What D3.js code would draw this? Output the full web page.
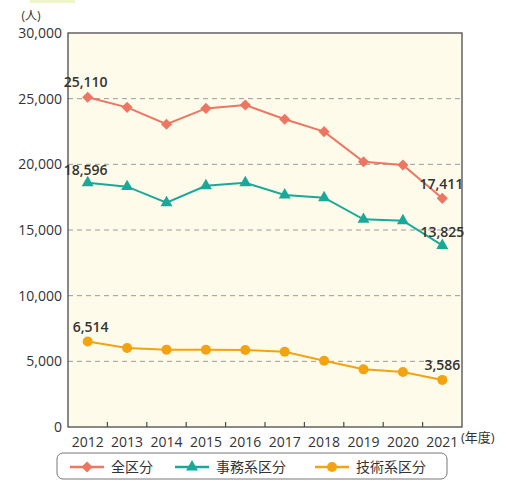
<!DOCTYPE html>
<html><head><meta charset="utf-8">
<script src="https://cdn.jsdelivr.net/npm/d3@7"></script>
<style>
html,body{margin:0;padding:0;background:#fff;}
text{font-family:"Open Sans","Noto Sans CJK JP",sans-serif;}
</style></head>
<body><svg id="c" width="506" height="481"></svg>
<script>
const years = ["2012","2013","2014","2015","2016","2017","2018","2019","2020","2021"];
const totalValues = [25110, 24340, 23050, 24260, 24520, 23430, 22490, 20200, 19950, 17411];
const clericalValues = [18596, 18300, 17080, 18370, 18600, 17670, 17460, 15810, 15710, 13825];
const technicalValues = [6514, 6015, 5890, 5880, 5860, 5730, 5050, 4390, 4190, 3586];
const yTicks = [0, 5000, 10000, 15000, 20000, 25000, 30000];
const seriesNames = ["全区分", "事務系区分", "技術系区分"];

const series = [
  {name: seriesNames[0], values: totalValues, color: "#ec7662", marker: "diamond"},
  {name: seriesNames[1], values: clericalValues, color: "#19a99a", marker: "triangle"},
  {name: seriesNames[2], values: technicalValues, color: "#f2a30f", marker: "circle"}
];

const svg = d3.select("#c");
const L = 68, R = 462, T = 33, B = 427;
const x = d3.scaleBand().domain(years).range([L, R]);
const y = d3.scaleLinear().domain([0, 30000]).range([B, T]);

// faint top decoration
svg.append("rect").attr("x", 30).attr("y", 0).attr("width", 45).attr("height", 3).attr("fill", "#eef5c8");

// plot background
svg.append("rect").attr("x", L).attr("y", T).attr("width", R - L).attr("height", B - T).attr("fill", "#fffbea");

// gridlines
svg.append("g").selectAll("line").data(yTicks.filter(d => d > 0 && d < 30000)).join("line")
  .attr("x1", L).attr("x2", R).attr("y1", d => y(d)).attr("y2", d => y(d))
  .attr("stroke", "#9a9a9a").attr("stroke-width", 1).attr("stroke-dasharray", "5,4");

// frame
svg.append("rect").attr("x", L).attr("y", T).attr("width", R - L).attr("height", B - T)
  .attr("fill", "none").attr("stroke", "#4a4a4a").attr("stroke-width", 1.3);

// y axis labels
const yAxis = d3.axisLeft(y).tickValues(yTicks).tickSize(0).tickPadding(6).tickFormat(d3.format(","));
const gy = svg.append("g").attr("transform", `translate(${L},0)`).call(yAxis);
gy.select(".domain").remove();
gy.selectAll("text").attr("font-size", 14).attr("fill", "#333");

// x axis: labels centered on bands, ticks at band boundaries pointing inward
const xAxis = d3.axisBottom(x).tickSize(0).tickPadding(10);
const gx = svg.append("g").attr("transform", `translate(0,${B})`).call(xAxis);
gx.select(".domain").remove();
gx.selectAll("text").attr("font-size", 14).attr("fill", "#333");
svg.append("g").selectAll("line").data(years.slice(1)).join("line")
  .attr("x1", d => x(d)).attr("x2", d => x(d)).attr("y1", B).attr("y2", B - 5)
  .attr("stroke", "#4a4a4a").attr("stroke-width", 1.2);

svg.append("text").attr("x", 461).attr("y", 442).attr("font-size", 13).attr("fill", "#333").text("(年度)");
svg.append("text").attr("x", 31).attr("y", 20).attr("text-anchor", "middle").attr("font-size", 12).attr("fill", "#333").text("(人)");

function drawMarker(g, type, color, cx, cy) {
  if (type === "diamond") {
    g.append("path").attr("d", d3.symbol(d3.symbolSquare, 62)()).attr("transform", `translate(${cx},${cy}) rotate(45)`).attr("fill", color);
  } else if (type === "triangle") {
    g.append("path").attr("d", d3.symbol(d3.symbolTriangle, 62)()).attr("transform", `translate(${cx},${cy})`).attr("fill", color);
  } else {
    g.append("circle").attr("cx", cx).attr("cy", cy).attr("r", 5).attr("fill", color);
  }
}

const line = d3.line().x((d, i) => x(years[i]) + x.bandwidth() / 2).y(d => y(d));
series.forEach(s => {
  const g = svg.append("g");
  g.append("path").attr("d", line(s.values)).attr("fill", "none").attr("stroke", s.color).attr("stroke-width", 2);
  s.values.forEach((v, i) => drawMarker(g, s.marker, s.color, x(years[i]) + x.bandwidth() / 2, y(v)));
});

// value labels
const fmt = d3.format(",");
const lbl = [
  {s: 0, i: 0, dx: -2, dy: -10},
  {s: 1, i: 0, dx: -2, dy: -8},
  {s: 2, i: 0, dx: 3, dy: -9},
  {s: 0, i: 9, dx: -1, dy: -9},
  {s: 1, i: 9, dx: 0, dy: -8},
  {s: 2, i: 9, dx: 0, dy: -10}
];
lbl.forEach(l => {
  const v = series[l.s].values[l.i];
  svg.append("text").attr("x", x(years[l.i]) + x.bandwidth() / 2 + l.dx).attr("y", y(v) + l.dy)
    .attr("text-anchor", "middle").attr("font-size", 14).attr("font-weight", 600).attr("fill", "#333")
    .text(fmt(v));
});

// legend
svg.append("rect").attr("x", 57).attr("y", 453).attr("width", 390).attr("height", 26).attr("rx", 6)
  .attr("fill", "#fff").attr("stroke", "#777").attr("stroke-width", 1);
const legX = [70, 175, 315];
series.forEach((s, i) => {
  const g = svg.append("g");
  g.append("line").attr("x1", legX[i]).attr("x2", legX[i] + 34).attr("y1", 467).attr("y2", 467).attr("stroke", s.color).attr("stroke-width", 2.5);
  drawMarker(g, s.marker, s.color, legX[i] + 17, 467);
  g.append("text").attr("x", legX[i] + 41).attr("y", 472).attr("font-size", 14).attr("fill", "#333").text(s.name);
});
</script></body></html>
